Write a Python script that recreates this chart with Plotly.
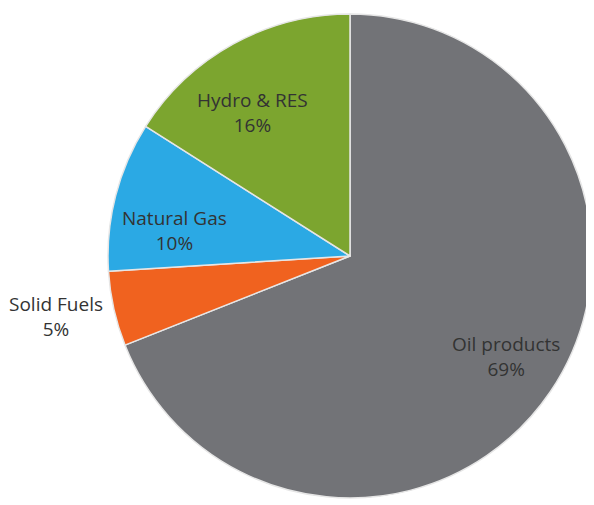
import plotly.graph_objects as go

# data
labels = ["Oil products", "Solid Fuels", "Natural Gas", "Hydro & RES"]
values = [69, 5, 10, 16]
colors = ["#727377", "#f0621f", "#2ba9e4", "#7ca52f"]

# label centres in pixels (layout only)
label_px = [(506, 356), (56, 316), (174, 230), (252, 112)]

W, H = 594, 505
OFF = 8  # page body margin
M = dict(l=108 - OFF, r=2 + OFF, t=14 - OFF, b=7 + OFF)


def to_paper(px, py):
    pw = W - M["l"] - M["r"]
    ph = H - M["t"] - M["b"]
    return (px - OFF - M["l"]) / pw, 1 - (py - OFF - M["t"]) / ph


fig = go.Figure(go.Pie(
    labels=labels,
    values=values,
    sort=False,
    direction="clockwise",
    rotation=0,
    marker=dict(colors=colors, line=dict(color="#e6e6e6", width=1.5)),
    textinfo="none",
    showlegend=False,
    hoverinfo="label+percent",
))

for lab, val, (px, py) in zip(labels, values, label_px):
    x, y = to_paper(px, py)
    fig.add_annotation(
        x=x, y=y, xref="paper", yref="paper",
        text=f"{lab}<br>{val}%",
        showarrow=False, xanchor="center", yanchor="middle",
        font=dict(family="Open Sans", size=19, color="#333333"),
    )

fig.update_layout(
    width=W, height=H,
    margin=M,
    paper_bgcolor="white",
    plot_bgcolor="white",
)

fig.write_html("out.html")
